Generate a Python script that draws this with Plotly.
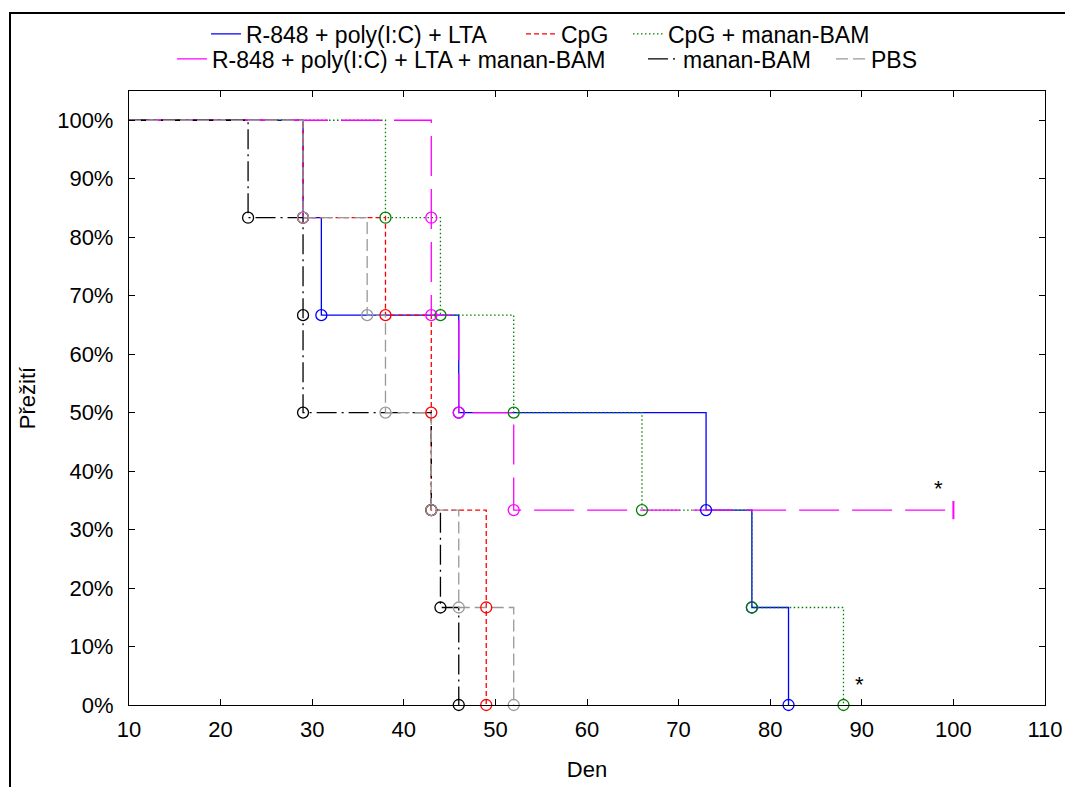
import plotly.graph_objects as go

# Kaplan–Meier survival, 6 animals per group: day of each death and the survival level after it
groups = [
    "R-848 + poly(I:C) + LTA",
    "CpG",
    "CpG + manan-BAM",
    "R-848 + poly(I:C) + LTA + manan-BAM",
    "manan-BAM",
    "PBS",
]

days_r848 = [29, 31, 46, 73, 78, 82]
surv_r848 = [83.33, 66.67, 50.0, 33.33, 16.67, 0.0]

days_cpg = [29, 38, 43, 43, 49, 49]
surv_cpg = [83.33, 66.67, 50.0, 33.33, 16.67, 0.0]

days_cpg_bam = [38, 44, 52, 66, 78, 88]
surv_cpg_bam = [83.33, 66.67, 50.0, 33.33, 16.67, 0.0]

days_r848_bam = [43, 43, 46, 52]
surv_r848_bam = [83.33, 66.67, 50.0, 33.33]
censor_day_r848_bam = 100
censor_surv_r848_bam = 33.33

days_bam = [23, 29, 29, 43, 44, 46]
surv_bam = [83.33, 66.67, 50.0, 33.33, 16.67, 0.0]

days_pbs = [29, 36, 38, 43, 46, 52]
surv_pbs = [83.33, 66.67, 50.0, 33.33, 16.67, 0.0]

start_day = 10
start_surv = 100.0

x_ticks = [10, 20, 30, 40, 50, 60, 70, 80, 90, 100, 110]
y_ticks = [0, 10, 20, 30, 40, 50, 60, 70, 80, 90, 100]
y_tick_labels = [f"{v}%" for v in y_ticks]

# significance marks: (day, survival)
stars = [(98.4, 37.5), (89.8, 4.1)]

# legend layout: one legend box per entry, (left px of label, row centre px)
legend_slots = [(248, 34), (563, 34), (670, 34), (214, 59), (685, 59), (873, 59)]

series = [
    (groups[0], days_r848, surv_r848, "#0000ff", "solid"),
    (groups[1], days_cpg, surv_cpg, "#ff0000", "5px,3px"),
    (groups[2], days_cpg_bam, surv_cpg_bam, "#008000", "1.5px,2.5px"),
    (groups[3], days_r848_bam, surv_r848_bam, "#ff00ff", "40px,13px"),
    (groups[4], days_bam, surv_bam, "#000000", "20px,5px,2px,5px"),
    (groups[5], days_pbs, surv_pbs, "#999999", "12px,5px"),
]

FONT = "Liberation Sans, Arial, sans-serif"

L, R, T, B = 129, 20, 91, 82
W, H = 1065, 787
pw, ph = W - L - R, H - T - B

fig = go.Figure()

legend_ids = ["legend"] + [f"legend{i}" for i in range(2, 7)]

for (name, days, surv, color, dash), leg in zip(series, legend_ids):
    xs = [start_day] + days
    ys = [start_surv] + surv
    if name == groups[3]:
        xs = xs + [censor_day_r848_bam]
        ys = ys + [censor_surv_r848_bam]
    fig.add_trace(go.Scatter(
        x=xs, y=ys, mode="lines", name=name, legend=leg,
        line=dict(color=color, width=1.3, dash=dash, shape="hv"),
        hoverinfo="skip",
    ))

for name, days, surv, color, dash in series:
    fig.add_trace(go.Scatter(
        x=days, y=surv, mode="markers", showlegend=False,
        marker=dict(symbol="circle-open", size=11, color=color,
                    line=dict(color=color, width=1.3)),
        cliponaxis=False, hoverinfo="skip",
    ))

# censored observation
fig.add_trace(go.Scatter(
    x=[censor_day_r848_bam], y=[censor_surv_r848_bam], mode="markers",
    showlegend=False,
    marker=dict(symbol="line-ns", size=13, color="#ff00ff",
                line=dict(color="#ff00ff", width=2)),
    hoverinfo="skip",
))

for sx, sy in stars:
    fig.add_annotation(x=sx, y=sy, text="*", showarrow=False,
                       font=dict(family=FONT, size=22, color="#000000"),
                       xanchor="center", yanchor="middle", yshift=-3)

# outer frame around the figure
fig.add_shape(type="rect", xref="paper", yref="paper",
              x0=(10 - L) / pw, x1=1.2, y0=-0.3, y1=(H - B - 13) / ph,
              line=dict(color="#000000", width=2), fillcolor="rgba(0,0,0,0)",
              layer="below")

axis_common = dict(
    showgrid=False, zeroline=False, showline=True, linecolor="#000000",
    linewidth=1.3, mirror="ticks", ticks="inside", ticklen=6, tickwidth=1,
    tickcolor="#000000", tickfont=dict(family=FONT, size=22, color="#000000"),
    automargin=False,
)

legend_layout = {}
for leg, (tx, ty) in zip(legend_ids, legend_slots):
    legend_layout[leg] = dict(
        orientation="h", x=(tx - 42 - L) / pw, xanchor="left",
        y=(H - B - ty) / ph, yanchor="middle",
        font=dict(family=FONT, size=23, color="#000000"),
        bgcolor="rgba(0,0,0,0)", itemwidth=30,
    )

fig.update_layout(
    width=W, height=H,
    margin=dict(l=L, r=R, t=T, b=B),
    paper_bgcolor="#ffffff", plot_bgcolor="#ffffff",
    font=dict(family=FONT, color="#000000"),
    xaxis=dict(range=[10, 110], tickvals=x_ticks, ticklabelstandoff=4,
               **axis_common,
               title=dict(text="Den", font=dict(family=FONT, size=22), standoff=21)),
    yaxis=dict(range=[0, 105], tickvals=y_ticks, ticktext=y_tick_labels,
               ticklabelstandoff=10, **axis_common,
               title=dict(text="Přežití", font=dict(family=FONT, size=22), standoff=15)),
    showlegend=True,
    **legend_layout,
)

fig.write_html("out.html")
